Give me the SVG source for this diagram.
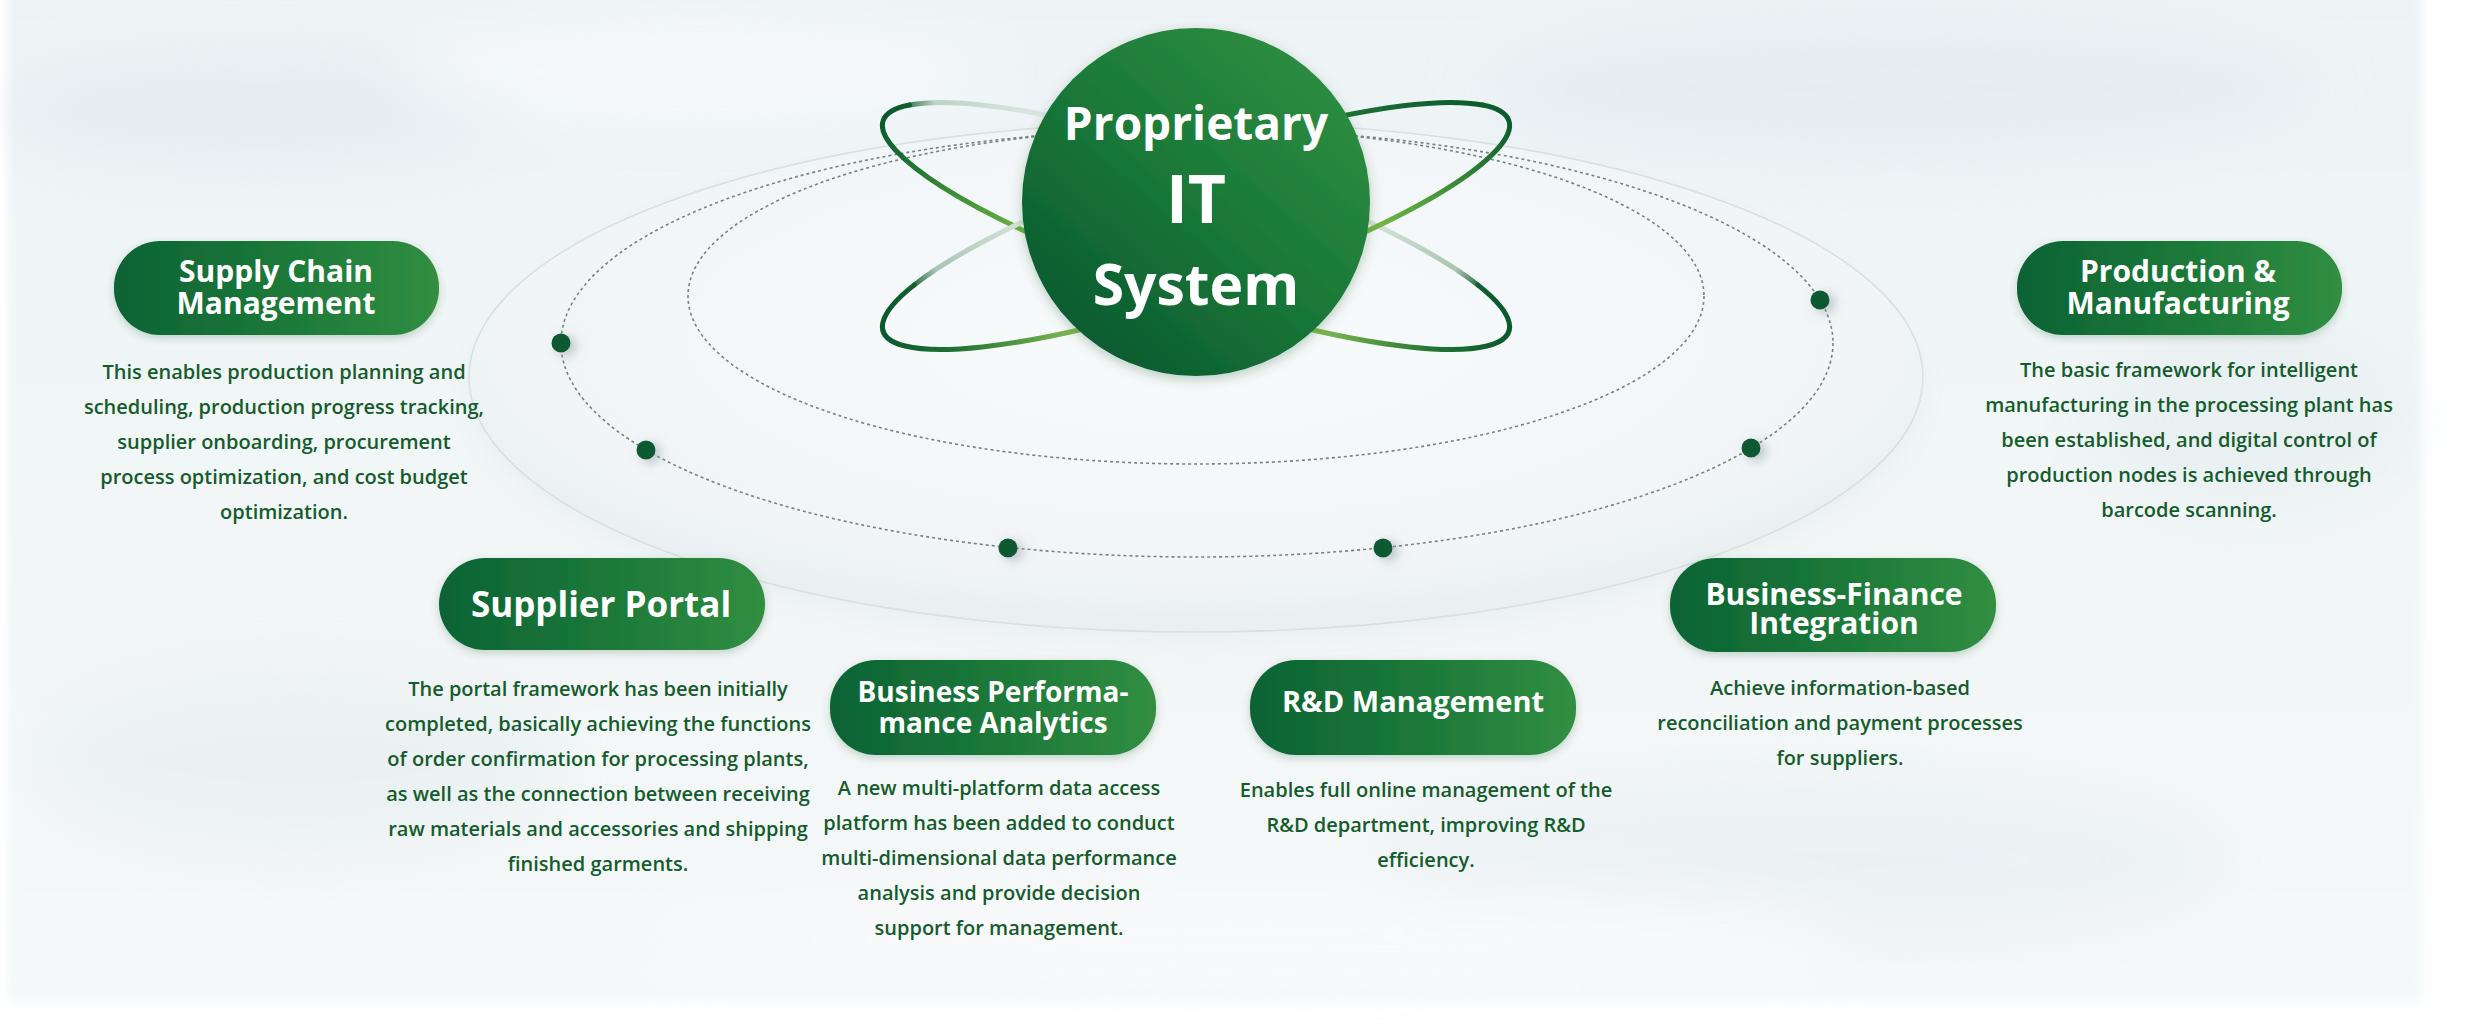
<svg xmlns="http://www.w3.org/2000/svg" width="2474" height="1024" viewBox="0 0 2474 1024">
<defs>
<style>
.pt{font-family:"Open Sans","Liberation Sans",sans-serif;font-weight:700;fill:#ffffff;text-anchor:middle}
.ds{font-family:"Open Sans","Liberation Sans",sans-serif;font-weight:600;font-size:20px;fill:#155c2c;text-anchor:middle}
.ct{font-family:"Open Sans","Liberation Sans",sans-serif;font-weight:700;fill:#ffffff;text-anchor:middle}
.dotted{fill:none;stroke:#72867c;stroke-width:1.6;stroke-dasharray:3 3}
.dot{fill:#0b5a33;filter:url(#dotSh)}
.orb{fill:none;stroke-width:5;stroke-linecap:round}
.pill{fill:url(#pillG);filter:url(#pillSh)}
</style>
<linearGradient id="bgG" x1="0" y1="0" x2="0" y2="1">
<stop offset="0" stop-color="#edf3f5"/><stop offset="0.5" stop-color="#f2f6f7"/><stop offset="1" stop-color="#f5f8f9"/>
</linearGradient>
<radialGradient id="discG" cx="0.5" cy="0.42" r="0.55">
<stop offset="0" stop-color="#f8fbfc"/><stop offset="0.85" stop-color="#f1f5f7"/><stop offset="1" stop-color="#eaf0f2"/>
</radialGradient>
<linearGradient id="pillG" x1="0" y1="0" x2="1" y2="0">
<stop offset="0" stop-color="#0b6334"/><stop offset="0.55" stop-color="#1d7a39"/><stop offset="1" stop-color="#318e41"/>
</linearGradient>
<linearGradient id="coreG" x1="0.15" y1="0.9" x2="0.85" y2="0.1">
<stop offset="0" stop-color="#0a5a30"/><stop offset="0.5" stop-color="#1a7838"/><stop offset="1" stop-color="#2d8d40"/>
</linearGradient>
<linearGradient id="gA1" gradientUnits="userSpaceOnUse" x1="895" y1="105" x2="1030" y2="233">
<stop offset="0" stop-color="#0b5a2e"/><stop offset="0.3" stop-color="#1f7434"/><stop offset="0.7" stop-color="#4f9b3a"/><stop offset="1" stop-color="#74b446"/>
</linearGradient>
<linearGradient id="gA2" gradientUnits="userSpaceOnUse" x1="905" y1="105" x2="1053" y2="116">
<stop offset="0" stop-color="#2f6f48"/><stop offset="0.2" stop-color="#bcd3c5"/><stop offset="1" stop-color="#dfeae4"/>
</linearGradient>
<linearGradient id="gA3" gradientUnits="userSpaceOnUse" x1="1362" y1="218" x2="1478" y2="285">
<stop offset="0" stop-color="#dbe7e0"/><stop offset="0.8" stop-color="#a9c5b3"/><stop offset="1" stop-color="#2b6e44"/>
</linearGradient>
<linearGradient id="gA4" gradientUnits="userSpaceOnUse" x1="1500" y1="300" x2="1303" y2="328">
<stop offset="0" stop-color="#0b5a2e"/><stop offset="0.35" stop-color="#1f7134"/><stop offset="1" stop-color="#8dc253"/>
</linearGradient>
<linearGradient id="gB1" gradientUnits="userSpaceOnUse" x1="1497" y1="105" x2="1362" y2="233">
<stop offset="0" stop-color="#0b5a2e"/><stop offset="0.3" stop-color="#2a7a36"/><stop offset="0.7" stop-color="#5aa43d"/><stop offset="1" stop-color="#80bb4b"/>
</linearGradient>
<linearGradient id="gB2" gradientUnits="userSpaceOnUse" x1="1482" y1="105" x2="1338" y2="116">
<stop offset="0" stop-color="#0b5a2e"/><stop offset="1" stop-color="#1e7036"/>
</linearGradient>
<linearGradient id="gB3" gradientUnits="userSpaceOnUse" x1="1030" y1="218" x2="914" y2="285">
<stop offset="0" stop-color="#dbe7e0"/><stop offset="0.8" stop-color="#a9c5b3"/><stop offset="1" stop-color="#2b6e44"/>
</linearGradient>
<linearGradient id="gB4" gradientUnits="userSpaceOnUse" x1="892" y1="300" x2="1089" y2="328">
<stop offset="0" stop-color="#0b5a2e"/><stop offset="0.35" stop-color="#1f7134"/><stop offset="1" stop-color="#8dc253"/>
</linearGradient>
<filter id="blur30" x="-50%" y="-50%" width="200%" height="200%"><feGaussianBlur stdDeviation="30"/></filter>
<filter id="blur4"><feGaussianBlur stdDeviation="4"/></filter>
<filter id="discSh" x="-10%" y="-20%" width="120%" height="140%"><feGaussianBlur stdDeviation="14"/></filter>
<filter id="dotSh" x="-150%" y="-150%" width="400%" height="400%"><feDropShadow dx="5" dy="3" stdDeviation="6" flood-color="#7f8f96" flood-opacity="0.55"/></filter>
<filter id="pillSh" x="-10%" y="-20%" width="120%" height="150%"><feDropShadow dx="0" dy="3" stdDeviation="4" flood-color="#0b4a26" flood-opacity="0.22"/></filter>
<filter id="coreSh" x="-20%" y="-20%" width="140%" height="140%"><feDropShadow dx="0" dy="4" stdDeviation="6" flood-color="#0b4a26" flood-opacity="0.25"/></filter>
</defs>

<g id="background">
<rect width="2474" height="1024" fill="#ffffff"/>
<rect x="8" y="-10" width="2414" height="1012" fill="url(#bgG)" filter="url(#blur4)"/>
<g filter="url(#blur30)" opacity="0.7">
<ellipse cx="260" cy="110" rx="260" ry="55" fill="#e2eaee"/>
<ellipse cx="1900" cy="90" rx="420" ry="70" fill="#e3ebef"/>
<ellipse cx="2250" cy="420" rx="160" ry="90" fill="#e6eef1"/>
<ellipse cx="300" cy="760" rx="260" ry="90" fill="#e8eff1"/>
<ellipse cx="1800" cy="860" rx="420" ry="80" fill="#e8eff2"/>
<ellipse cx="700" cy="70" rx="300" ry="50" fill="#f8fbfc"/>
<ellipse cx="1250" cy="940" rx="600" ry="60" fill="#f9fbfc"/>
</g>
</g>

<g id="rings">
<ellipse cx="1196" cy="390" rx="724" ry="250" fill="#8a9ca3" opacity="0.08" filter="url(#discSh)"/>
<ellipse cx="1196" cy="377" rx="727" ry="255" fill="url(#discG)" stroke="#d8e1de" stroke-width="1.6"/>
<ellipse cx="1196" cy="296" rx="508" ry="168" class="dotted"/>
<ellipse cx="1197" cy="343" rx="636" ry="214" class="dotted"/>
<circle class="dot" cx="561" cy="343" r="9.5"/>
<circle class="dot" cx="646" cy="450" r="9.5"/>
<circle class="dot" cx="1008" cy="548" r="9.5"/>
<circle class="dot" cx="1383" cy="548" r="9.5"/>
<circle class="dot" cx="1751" cy="448" r="9.5"/>
<circle class="dot" cx="1820" cy="300" r="9.5"/>
</g>

<g id="orbits">
<path class="orb" stroke="url(#gA2)" d="M 909.5 105 A 330 68 18.6 0 1 1053.5 116.6"/>
<path class="orb" stroke="url(#gA1)" d="M 909.5 105 A 330 68 18.6 0 0 1030 233.5"/>
<path class="orb" stroke="url(#gA3)" d="M 1362 218.5 A 330 68 18.6 0 1 1477.7 284.9"/>
<path class="orb" stroke="url(#gA4)" d="M 1477.7 284.9 A 330 68 18.6 0 1 1303.4 327.7"/>
<path class="orb" stroke="url(#gB2)" d="M 1482.5 105 A 330 68 -18.6 0 0 1338.5 116.6"/>
<path class="orb" stroke="url(#gB1)" d="M 1482.5 105 A 330 68 -18.6 0 1 1362 233.5"/>
<path class="orb" stroke="url(#gB3)" d="M 1030 218.5 A 330 68 -18.6 0 0 914.3 284.9"/>
<path class="orb" stroke="url(#gB4)" d="M 914.3 284.9 A 330 68 -18.6 0 0 1088.6 327.7"/>
</g>

<g id="node-core">
<circle cx="1196" cy="202" r="174" fill="url(#coreG)" filter="url(#coreSh)"/>
<text class="ct" x="1196" y="140" font-size="46">Proprietary</text>
<text class="ct" x="1196" y="223" font-size="66">IT</text>
<text class="ct" x="1196" y="305" font-size="57">System</text>
</g>

<g id="node-supply-chain">
<rect class="pill" x="114" y="241" width="325" height="94" rx="46"/>
<text class="pt" font-size="30"><tspan x="276" y="282">Supply Chain</tspan><tspan x="276" y="314">Management</tspan></text>
<text class="ds" x="284" y="379">This enables production planning and</text>
<text class="ds" x="284" y="414">scheduling, production progress tracking,</text>
<text class="ds" x="284" y="449">supplier onboarding, procurement</text>
<text class="ds" x="284" y="484">process optimization, and cost budget</text>
<text class="ds" x="284" y="519">optimization.</text>
</g>

<g id="node-production">
<rect class="pill" x="2017" y="241" width="325" height="94" rx="46"/>
<text class="pt" font-size="30"><tspan x="2178" y="282">Production &amp;</tspan><tspan x="2178" y="314">Manufacturing</tspan></text>
<text class="ds" x="2189" y="377">The basic framework for intelligent</text>
<text class="ds" x="2189" y="412">manufacturing in the processing plant has</text>
<text class="ds" x="2189" y="447">been established, and digital control of</text>
<text class="ds" x="2189" y="482">production nodes is achieved through</text>
<text class="ds" x="2189" y="517">barcode scanning.</text>
</g>

<g id="node-supplier-portal">
<rect class="pill" x="439" y="558" width="326" height="92" rx="46"/>
<text class="pt" x="601" y="617" font-size="35">Supplier Portal</text>
<text class="ds" x="598" y="696">The portal framework has been initially</text>
<text class="ds" x="598" y="731">completed, basically achieving the functions</text>
<text class="ds" x="598" y="766">of order confirmation for processing plants,</text>
<text class="ds" x="598" y="801">as well as the connection between receiving</text>
<text class="ds" x="598" y="836">raw materials and accessories and shipping</text>
<text class="ds" x="598" y="871">finished garments.</text>
</g>

<g id="node-business-performance">
<rect class="pill" x="830" y="660" width="326" height="95" rx="46"/>
<text class="pt" font-size="28"><tspan x="993" y="702">Business Performa-</tspan><tspan x="993" y="733">mance Analytics</tspan></text>
<text class="ds" x="999" y="795">A new multi-platform data access</text>
<text class="ds" x="999" y="830">platform has been added to conduct</text>
<text class="ds" x="999" y="865">multi-dimensional data performance</text>
<text class="ds" x="999" y="900">analysis and provide decision</text>
<text class="ds" x="999" y="935">support for management.</text>
</g>

<g id="node-rd">
<rect class="pill" x="1250" y="660" width="326" height="95" rx="46"/>
<text class="pt" x="1413" y="712" font-size="29">R&amp;D Management</text>
<text class="ds" x="1426" y="797">Enables full online management of the</text>
<text class="ds" x="1426" y="832">R&amp;D department, improving R&amp;D</text>
<text class="ds" x="1426" y="867">efficiency.</text>
</g>

<g id="node-business-finance">
<rect class="pill" x="1670" y="558" width="326" height="94" rx="46"/>
<text class="pt" font-size="30"><tspan x="1834" y="605">Business-Finance</tspan><tspan x="1834" y="634">Integration</tspan></text>
<text class="ds" x="1840" y="695">Achieve information-based</text>
<text class="ds" x="1840" y="730">reconciliation and payment processes</text>
<text class="ds" x="1840" y="765">for suppliers.</text>
</g>
</svg>
